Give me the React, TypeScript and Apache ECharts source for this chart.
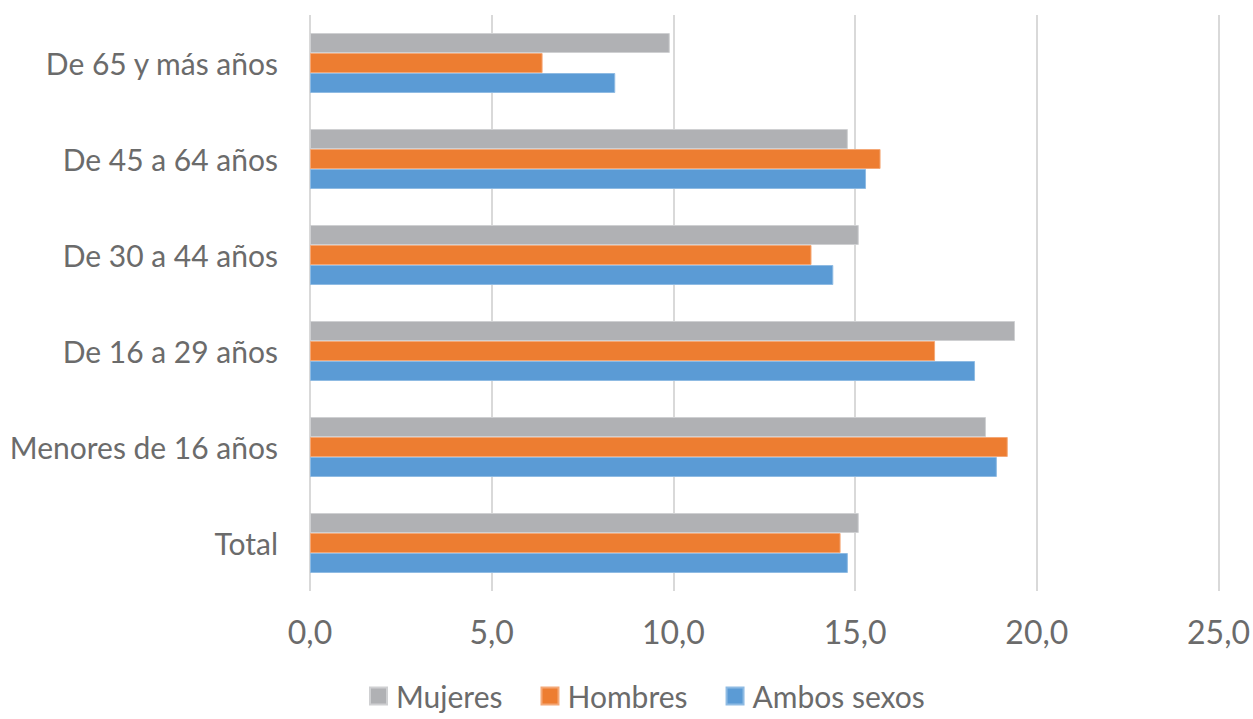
import React, { useEffect, useRef } from "react";
import * as echarts from "echarts";

// Age groups, bottom to top on the category axis
const categories = [
  "Total",
  "Menores de 16 años",
  "De 16 a 29 años",
  "De 30 a 44 años",
  "De 45 a 64 años",
  "De 65 y más años",
];

const mujeres = [15.1, 18.6, 19.4, 15.1, 14.8, 9.9];
const hombres = [14.6, 19.2, 17.2, 13.8, 15.7, 6.4];
const ambosSexos = [14.8, 18.9, 18.3, 14.4, 15.3, 8.4];

const legendOrder = ["Mujeres", "Hombres", "Ambos sexos"];

const FONT = "Lato, 'Open Sans', sans-serif";
const TEXT = "#6b6b6b";

export default function App() {
  const ref = useRef<HTMLDivElement>(null);

  useEffect(() => {
    if (!ref.current) return;
    const chart = echarts.init(ref.current, null, { renderer: "svg" });

    const bar = (name: string, data: number[], color: string, border: string) => ({
      name,
      type: "bar",
      data,
      barWidth: 20,
      barGap: "0%",
      itemStyle: { color, borderColor: border, borderWidth: 1 },
    });

    chart.setOption({
      animation: false,
      backgroundColor: "#ffffff",
      textStyle: { fontFamily: FONT },
      grid: { left: 310, right: 31, top: 15, bottom: 128, containLabel: false },
      legend: {
        data: legendOrder,
        top: 681,
        left: 369,
        padding: 0,
        itemWidth: 17,
        itemHeight: 17,
        itemGap: 38,
        icon: "rect",
        textStyle: {
          fontFamily: FONT,
          fontSize: 30,
          lineHeight: 28,
          color: TEXT,
          padding: [0, 0, 0, 4],
        },
      },
      xAxis: {
        type: "value",
        min: 0,
        max: 25,
        interval: 5,
        axisLine: { show: false },
        axisTick: { show: false },
        splitLine: { show: true, lineStyle: { color: "#d9d9d9", width: 2 } },
        axisLabel: {
          fontFamily: FONT,
          fontSize: 32,
          color: TEXT,
          margin: 24,
          formatter: (v: number) => v.toFixed(1).replace(".", ","),
        },
      },
      yAxis: {
        type: "category",
        data: categories,
        axisLine: { show: false },
        axisTick: { show: false },
        splitLine: { show: false },
        axisLabel: { fontFamily: FONT, fontSize: 30, color: TEXT, margin: 32 },
      },
      series: [
        bar("Mujeres", mujeres, "#B0B1B4", "#cfd0d2"),
        bar("Hombres", hombres, "#ED7D31", "#f4a877"),
        bar("Ambos sexos", ambosSexos, "#5B9BD5", "#8fbbe3"),
      ],
    });

    return () => chart.dispose();
  }, []);

  return (
    <div
      ref={ref}
      style={{ position: "fixed", left: 0, top: 0, width: 1253, height: 719 }}
    />
  );
}
